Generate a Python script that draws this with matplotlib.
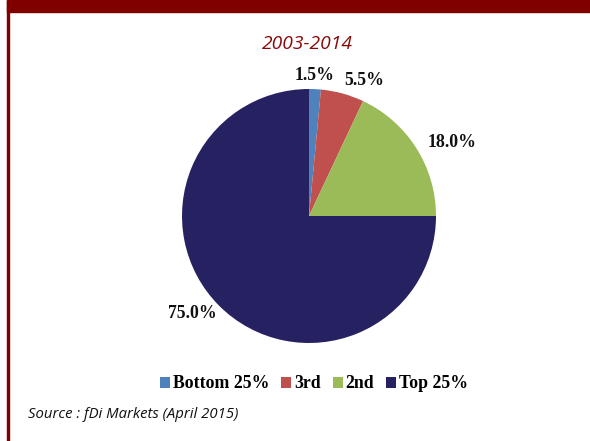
import numpy as np
import matplotlib
matplotlib.use("Agg")
import matplotlib.pyplot as plt
from matplotlib.patches import Patch, Rectangle

# ---- data ----
categories = ["Bottom 25%", "3rd", "2nd", "Top 25%"]
shares = [1.5, 5.5, 18.0, 75.0]
value_labels = ["1.5%", "5.5%", "18.0%", "75.0%"]
title_text = "2003-2014"
source_text = "Source : fDi Markets (April 2015)"

# ---- style ----
colors = ["#4F81BD", "#C0504D", "#9BBB59", "#262261"]
dark_red = "#800000"
W, H = 590, 441
label_dist = [1.111, 1.155, 1.268, 1.197]
label_ang = [87.6, 67.9, 27.3, -140.3]

fig = plt.figure(figsize=(W / 100, H / 100), dpi=100)
fig.patch.set_facecolor("white")

# frame decorations
fig.patches.append(Rectangle((7 / W, 1 - 12 / H), 1 - 7 / W, 12 / H,
                             transform=fig.transFigure, color=dark_red, zorder=0))
fig.patches.append(Rectangle((7 / W, 0), 2 / W, 1,
                             transform=fig.transFigure, color=dark_red, zorder=0))

# pie axes: center (309,216) px, radius 127 px
cx, cy, r = 309, H - 216, 127
L = 1.5
side = 2 * L * r
ax = fig.add_axes([(cx - side / 2) / W, (cy - side / 2) / H, side / W, side / H])
ax.pie(shares, colors=colors, startangle=90, counterclock=False,
       wedgeprops=dict(linewidth=0))
ax.set_xlim(-L, L)
ax.set_ylim(-L, L)
ax.set_aspect("equal")
ax.axis("off")

for txt, d, a in zip(value_labels, label_dist, label_ang):
    t = np.deg2rad(a)
    ax.text(d * np.cos(t), d * np.sin(t), txt, ha="center", va="center",
            fontfamily="Liberation Serif", fontweight="bold", fontsize=12.8,
            color="#111111")

fig.text(307 / W, 1 - 44 / H, title_text, ha="center", va="center",
         fontfamily="Open Sans", fontstyle="italic", fontsize=13.9,
         color="#8a0a0a")

handles = [Patch(facecolor=c, edgecolor="none") for c in colors]
fig.legend(handles, categories, loc="center", bbox_to_anchor=(314 / W, 1 - 384 / H),
           ncol=4, frameon=False, handlelength=0.55, handleheight=0.55,
           handletextpad=0.15, columnspacing=0.7, borderpad=0, borderaxespad=0,
           prop=dict(family="Liberation Serif", weight="bold", size=12.8))

fig.text(28 / W, 1 - 414 / H, source_text, ha="left", va="center",
         fontfamily="Open Sans", fontstyle="italic", fontsize=10.7,
         color="#111111")

fig.savefig("out.png", dpi=100, facecolor="white")
